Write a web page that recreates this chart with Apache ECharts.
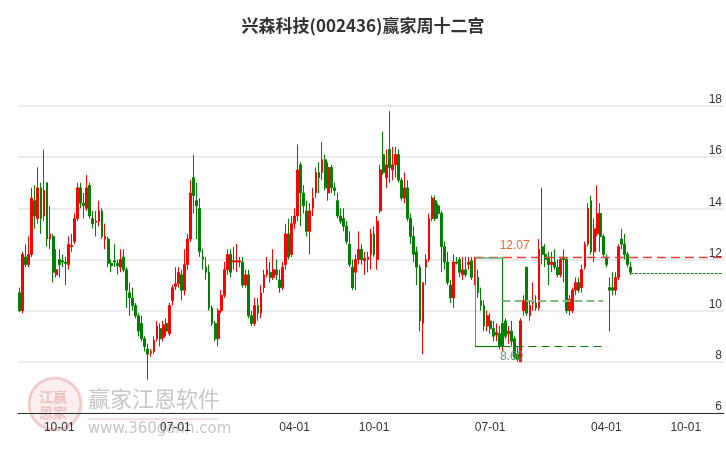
<!DOCTYPE html>
<html><head><meta charset="utf-8">
<script src="https://cdn.jsdelivr.net/npm/echarts@6/dist/echarts.min.js"></script>
<style>html,body{margin:0;padding:0;background:#fff}#c{width:726px;height:450px}</style>
</head><body><div id="c"></div>
<script>
const titleText = '兴森科技(002436)赢家周十二宫';
const startDate = '2020-06-26';
const axisCount = 231;
const holidayWeeks = ['2021-02-12','2022-02-01','2023-01-23','2024-02-12'];
const tickDates = ['2020-10-01','2021-07-01','2022-04-01','2022-10-01','2023-07-01','2024-04-01','2024-10-01'];
const yTicks = [6, 8, 10, 12, 14, 16, 18];
// weekly [open, close, low, high]
const candles = [
[10.7,10.0,9.95,10.9],[10.0,12.2,9.9,12.3],[12.1,11.8,11.7,12.6],[11.8,12.2,11.7,12.9],[12.2,14.4,12.1,14.8],
[14.3,13.7,13.2,14.9],[13.6,14.8,13.4,15.6],[14.8,13.6,13.0,15.0],[13.7,14.7,13.5,16.3],[15.0,12.8,12.5,15.0],
[12.8,13.0,12.4,14.1],[12.9,11.5,11.1,13.0],[11.4,11.6,11.3,12.4],[12.0,11.8,11.3,12.4],[11.95,11.9,11.7,12.2],
[11.9,11.85,11.0,12.1],[11.8,12.6,11.6,12.9],[12.5,12.55,12.3,13.0],[12.7,13.6,12.6,13.8],[13.6,14.8,13.5,15.0],
[14.8,14.2,14.0,15.0],[14.2,14.1,13.6,14.6],[14.0,14.8,13.9,15.3],[14.9,13.7,13.6,15.0],[13.6,13.4,13.2,13.9],
[13.45,13.5,12.9,13.9],[13.5,13.9,13.3,14.3],[13.9,12.9,12.8,14.0],[12.8,12.9,12.4,13.4],[12.8,11.85,11.7,12.9],
[11.85,11.75,11.5,12.0],[11.95,11.9,11.7,12.6],[11.85,11.75,11.4,12.0],[11.7,12.0,11.5,12.4],[12.1,11.6,11.5,12.4],
[11.6,10.8,10.1,11.7],[10.7,10.5,9.8,11.1],[10.5,10.2,10.0,10.9],[10.2,9.8,9.7,10.3],[9.8,9.2,9.0,9.9],
[9.5,8.9,8.8,9.8],[8.9,8.6,8.4,9.0],[8.5,8.3,7.3,8.7],[8.35,8.4,8.2,8.5],[8.4,8.85,8.3,9.0],
[8.9,9.4,8.8,9.6],[9.3,8.9,8.6,9.5],[8.95,9.45,8.8,9.6],[9.5,9.2,9.0,9.7],[9.1,10.2,9.0,10.3],
[10.4,10.9,10.2,11.0],[10.95,11.05,10.8,11.7],[11.05,11.5,10.9,11.7],[11.4,10.8,10.4,11.6],[10.8,11.8,10.6,12.4],
[11.8,12.8,11.6,13.0],[12.8,14.6,12.7,15.1],[15.2,14.5,13.8,16.1],[14.3,14.1,12.8,15.0],[14.0,12.3,12.1,14.4],
[12.1,12.0,11.6,12.4],[11.7,11.5,11.2,12.1],[11.5,10.1,10.0,11.8],[10.1,9.5,9.4,10.2],[9.5,8.9,8.8,9.6],
[8.9,10.0,8.6,10.1],[10.0,10.6,9.9,10.8],[10.6,11.6,10.5,11.9],[11.6,12.2,11.4,12.4],[12.2,11.5,11.3,12.4],
[11.9,11.95,11.6,12.5],[11.9,11.95,11.5,12.6],[11.9,11.95,11.7,12.1],[11.9,11.0,10.9,12.1],[11.0,11.4,10.9,11.6],
[11.4,9.8,9.7,11.6],[9.8,9.5,9.4,10.0],[9.5,10.2,9.4,10.5],[10.2,9.9,9.6,10.5],[9.9,10.7,9.7,11.0],
[10.9,11.4,10.7,11.6],[11.4,11.6,11.3,12.1],[11.5,11.3,11.1,11.9],[11.3,11.6,11.2,12.4],[11.6,11.4,11.2,12.0],
[11.2,10.9,10.7,11.6],[10.9,11.7,10.8,11.9],[11.8,13.0,11.6,13.4],[13.0,12.1,12.0,13.6],[12.2,13.4,12.1,13.7],
[13.4,13.7,13.2,14.0],[13.7,15.5,13.5,16.5],[15.7,14.6,13.3,15.8],[14.6,14.1,13.8,14.9],[13.9,13.1,12.9,14.3],
[13.1,13.9,12.2,14.2],[14.0,14.4,13.7,14.8],[14.6,15.4,14.4,15.6],[15.4,15.2,14.6,15.8],[15.4,15.9,15.1,16.6],
[15.9,14.8,14.7,16.1],[14.6,15.6,14.3,15.8],[15.6,14.8,14.6,15.7],[14.8,14.7,14.5,15.0],[14.3,13.7,13.6,14.6],
[13.7,13.5,13.4,14.0],[13.6,13.3,13.1,14.0],[13.3,12.7,12.6,13.5],[12.6,11.8,11.7,13.1],[11.7,10.9,10.8,12.0],
[11.5,12.0,10.8,12.2],[12.0,12.4,11.8,13.1],[12.4,12.0,11.8,12.6],[11.95,12.05,11.4,12.3],[12.0,12.1,11.5,12.3],
[12.2,13.0,11.6,13.2],[13.0,12.2,12.1,13.3],[12.0,13.5,11.6,13.7],[13.9,15.5,13.8,15.7],[16.1,15.4,15.3,17.0],
[15.2,15.7,14.8,16.3],[16.3,15.6,15.0,17.8],[15.5,15.7,15.1,16.4],[15.7,16.1,15.2,16.4],[16.1,15.1,15.0,16.3],
[15.1,14.4,14.3,15.2],[14.4,14.8,14.2,15.4],[14.8,13.6,13.5,15.1],[13.6,12.9,12.6,13.8],[12.9,12.2,11.9,13.3],
[12.3,11.7,11.0,12.5],[11.7,9.6,9.2,11.8],[9.5,11.1,8.3,11.1],[11.7,12.0,11.0,12.2],[12.0,13.6,11.9,13.8],
[13.6,14.4,13.5,14.5],[14.3,13.6,13.5,14.5],[14.1,13.8,13.6,14.2],[13.8,12.5,11.5,13.9],[12.5,11.9,11.6,12.7],
[11.9,11.1,11.0,12.3],[11.0,10.5,10.3,11.2],[10.5,11.9,10.1,12.2],[11.9,11.85,11.8,12.1],[12.0,11.5,11.3,12.1],
[11.4,11.6,11.2,12.1],[11.6,11.4,11.3,12.1],[11.8,11.9,11.6,12.1],[11.95,11.3,11.2,12.1],[11.25,11.45,11.0,12.1],
[11.3,10.7,10.5,11.6],[10.4,10.2,10.0,10.9],[10.2,9.4,9.2,10.4],[9.4,9.8,9.2,10.0],[9.6,9.3,9.1,9.9],
[9.3,9.0,8.8,9.6],[9.05,9.15,8.8,9.5],[9.1,8.6,8.5,9.4],[8.6,9.5,8.4,9.7],[9.6,9.0,8.9,9.7],
[9.1,9.2,8.7,9.4],[9.2,8.8,8.6,9.6],[8.9,8.2,8.1,9.0],[8.3,8.1,8.0,8.6],[8.0,9.6,8.0,9.7],
[10.0,10.4,9.8,10.6],[11.7,9.9,9.8,11.7],[9.8,10.2,9.6,10.4],[10.3,10.35,10.0,11.1],[10.3,10.1,10.0,10.6],
[10.1,12.4,10.0,12.8],[12.5,12.2,11.8,14.8],[12.2,12.0,11.7,12.6],[12.1,11.8,11.0,12.3],[11.8,11.9,11.5,12.3],
[11.9,11.7,11.6,12.4],[11.7,11.4,11.3,12.0],[11.4,12.0,11.3,12.1],[12.1,12.0,11.1,12.4],[12.0,10.0,9.9,12.1],
[10.0,10.45,9.8,10.6],[10.0,10.8,9.9,10.9],[10.8,11.1,10.6,11.3],[11.1,10.8,10.7,11.3],[10.9,11.6,10.7,11.8],
[11.7,12.6,11.6,12.7],[12.6,14.0,12.5,14.2],[14.3,12.3,12.2,14.5],[12.3,13.2,11.9,13.6],[13.0,13.8,12.9,14.9],
[13.8,12.9,12.3,14.2],[12.9,12.2,12.1,13.0],[12.1,11.8,11.7,12.2],[10.9,10.8,9.2,11.3],[10.9,10.8,10.6,11.5],
[10.8,11.3,10.6,11.5],[11.3,12.5,11.2,12.6],[12.8,12.6,12.4,13.2],[12.6,12.2,12.0,13.0],[12.2,11.8,11.7,12.3],
[11.7,11.5,11.4,11.9]
];
const resistance = 12.07;
const support = 8.60;
const midLevel = 10.40;
const lastLevel = 11.45;
const boxStart = 149, boxEnd = 158, lineEnd = 191;

const DAY = 86400000;
const d0 = new Date(startDate + 'T00:00:00Z').getTime();
const hol = holidayWeeks.map(s => new Date(s + 'T00:00:00Z').getTime());
const weekStarts = [];
for (let w = 0; weekStarts.length < axisCount; w++) {
  const a = d0 + w * 7 * DAY;
  if (hol.some(h => h >= a && h < a + 7 * DAY)) continue;
  weekStarts.push(a);
}
const cats = weekStarts.map(a => new Date(a).toISOString().slice(0, 10));
const tickIdx = {};
tickDates.forEach(t => {
  const td = new Date(t + 'T00:00:00Z').getTime();
  for (let i = 0; i < weekStarts.length; i++) {
    const next = i + 1 < weekStarts.length ? weekStarts[i + 1] : weekStarts[i] + 7 * DAY;
    if (td >= weekStarts[i] && td < next) { tickIdx[i] = t.slice(5); break; }
  }
});
const lastIdx = candles.length - 1;

const chart = echarts.init(document.getElementById('c'));
const green = '#008000', red = '#ff0000';
chart.setOption({
  animation: false,
  title: { text: titleText, left: 'center', top: 12, textStyle: { fontSize: 17, fontWeight: 'bold', color: '#333', fontFamily: 'Noto Sans CJK SC' } },
  grid: { left: 18, right: 2, top: 106, bottom: 37 },
  xAxis: {
    type: 'category', data: cats, boundaryGap: true,
    axisLine: { lineStyle: { color: '#333' } },
    axisTick: { length: 5, interval: i => tickIdx[i] !== undefined, lineStyle: { color: '#333' } },
    axisLabel: { interval: i => tickIdx[i] !== undefined, formatter: (v, i) => tickIdx[i] || '', color: '#333', fontSize: 12, margin: 9 },
    splitLine: { show: false }
  },
  yAxis: {
    type: 'value', position: 'right', min: yTicks[0], max: yTicks[yTicks.length - 1], interval: 2,
    axisLine: { show: false }, axisTick: { show: false },
    axisLabel: { inside: true, margin: 2, verticalAlign: 'bottom', color: '#333', fontSize: 12 },
    splitLine: { lineStyle: { color: '#e6e6e6', width: 1.5 } }
  },
  series: [
    {
      type: 'candlestick', data: candles, barWidth: '75%',
      itemStyle: { color: red, color0: green, borderColor: red, borderColor0: green, borderWidth: 1 }
    },
    {
      type: 'line', data: [], silent: true,
      markLine: {
        symbol: 'none', silent: true, label: { show: false },
        data: [
          [{ coord: [boxStart, resistance], lineStyle: { color: '#ff3a3a', type: [9, 5], width: 1.3 } }, { coord: [axisCount - 1, resistance] }],
          [{ coord: [boxStart, resistance], lineStyle: { color: '#70b070', type: 'solid', width: 1.5 } }, { coord: [boxEnd, resistance] }],
          [{ coord: [boxStart, resistance], lineStyle: { color: '#5a9a5a', type: 'solid', width: 1 } }, { coord: [boxStart, support] }],
          [{ coord: [boxEnd, resistance], lineStyle: { color: green, type: 'solid', width: 1 } }, { coord: [boxEnd, support] }],
          [{ coord: [boxStart, support], lineStyle: { color: green, type: 'solid', width: 1.2 } }, { coord: [boxEnd, support] }],
          [{ coord: [boxEnd, support], lineStyle: { color: green, type: [8, 5], width: 1.2 } }, { coord: [lineEnd, support] }],
          [{ coord: [boxEnd, midLevel], lineStyle: { color: '#80bb80', type: [8, 4], width: 2 } }, { coord: [lineEnd, midLevel] }],
          [{ coord: [lastIdx, lastLevel], lineStyle: { color: '#1a8a1a', type: [3, 1], width: 1 } }, { coord: [axisCount - 1, lastLevel] }]
        ]
      },
      markPoint: {
        symbol: 'rect', symbolSize: 0, silent: true,
        data: [
          { coord: [boxEnd + 4, resistance], label: { show: true, formatter: '12.07', color: '#f06a30', fontSize: 12, offset: [0, -12] } },
          { coord: [boxEnd + 3, support], label: { show: true, formatter: '8.60', color: '#5a9a70', fontSize: 12, offset: [0, 10] } }
        ]
      }
    }
  ],
  graphic: [
    { type: 'circle', shape: { cx: 55, cy: 404, r: 26 }, style: { fill: 'rgba(230,160,160,0.18)', stroke: 'rgba(220,140,140,0.4)', lineWidth: 3 }, z: -1 },
    { type: 'text', left: 39, top: 389, style: { text: '江赢\n恩家', font: 'bold 14px "Noto Sans CJK SC"', fill: 'rgba(220,140,140,0.45)', lineHeight: 16 }, z: -1 },
    { type: 'text', left: 88, top: 388, style: { text: '赢家江恩软件', font: '22px "Noto Sans CJK SC"', fill: 'rgba(160,160,160,0.6)' }, z: -1 },
    { type: 'rect', shape: { x: 88, y: 418, width: 130, height: 2 }, style: { fill: 'rgba(230,170,170,0.35)' }, z: -1 },
    { type: 'text', left: 88, top: 422, style: { text: 'www.360gann.com', font: '15px "DejaVu Sans"', fill: 'rgba(160,160,160,0.6)' }, z: -1 }
  ]
});
</script></body></html>
